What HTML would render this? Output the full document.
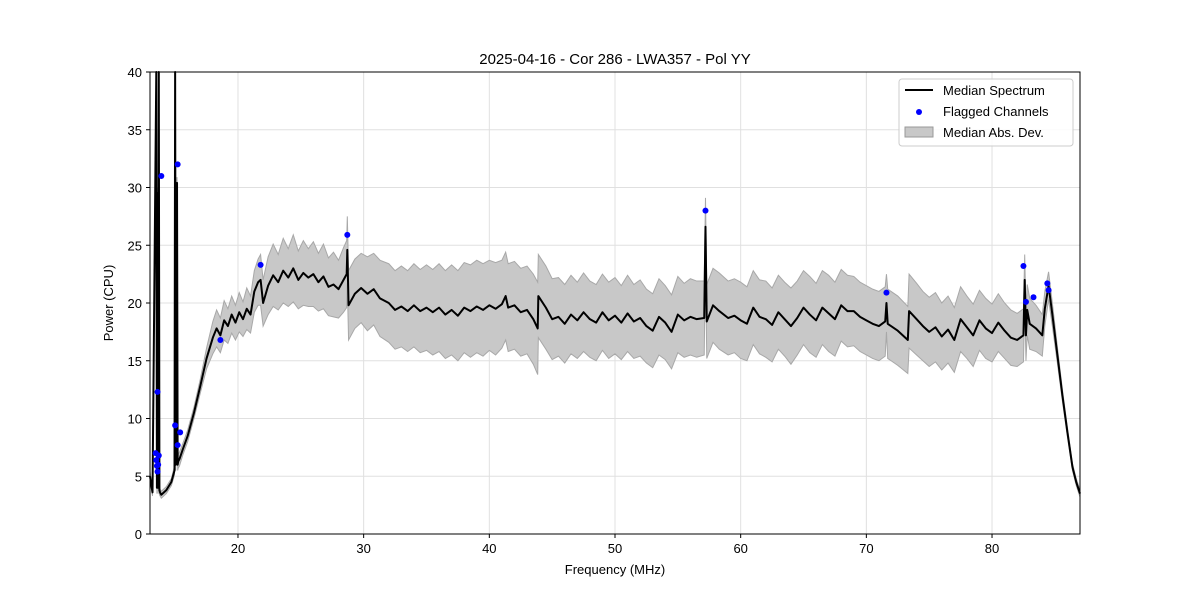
<!DOCTYPE html>
<html><head><meta charset="utf-8"><style>
body{margin:0;background:#fff;font-family:"Liberation Sans","DejaVu Sans",sans-serif}
svg text{font-family:"Liberation Sans","DejaVu Sans",sans-serif;fill:#000}
</style></head><body>
<svg id="chart" width="1200" height="600">
<rect width="1200" height="600" fill="#fff"/>
<text x="615" y="64" font-size="15" text-anchor="middle">2025-04-16 - Cor 286 - LWA357 - Pol YY</text>
<g id="grid"></g>
<g id="plot"></g>
<rect x="150" y="72" width="930" height="462" fill="none" stroke="#000" stroke-width="1"/>
<g id="axes"></g>
<text x="615" y="574" font-size="13" text-anchor="middle">Frequency (MHz)</text>
<text x="113" y="303" font-size="13" text-anchor="middle" transform="rotate(-90 113 303)">Power (CPU)</text>
<g>
<rect x="899" y="79" width="174" height="67" rx="3" fill="#fff" fill-opacity="0.85" stroke="#ccc"/>
<g><line x1="905" y1="90" x2="933" y2="90" stroke="#000" stroke-width="2"/><text x="943" y="95" font-size="13">Median Spectrum</text></g>
<g><circle cx="919" cy="112" r="3" fill="#00f"/><text x="943" y="116" font-size="13">Flagged Channels</text></g>
<g><rect x="905" y="127" width="28" height="10" fill="#c8c8c8" stroke="#999"/><text x="943" y="137" font-size="13">Median Abs. Dev.</text></g>
</g>
</svg>
<script>
const freqs=[
13.0,13.2,13.5,13.55,13.6,13.65,13.7,13.75,13.8,13.9,
14.3,14.7,14.95,15.0,15.05,15.15,15.2,15.25,15.35,15.6,
16.0,16.5,17.0,17.5,18.0,18.3,18.6,18.9,19.2,19.5,
19.8,20.1,20.4,20.7,21.0,21.3,21.6,21.8,22.0,22.4,
22.8,23.2,23.6,24.0,24.4,24.8,25.2,25.6,26.0,26.4,
26.8,27.2,27.6,28.0,28.4,28.65,28.7,28.8,29.3,29.8,
30.3,30.8,31.3,32.0,32.5,33.0,33.5,34.0,34.5,35.0,
35.5,36.0,36.5,37.0,37.5,38.0,38.5,39.0,39.5,40.0,
40.5,41.0,41.3,41.5,42.0,42.5,43.0,43.5,43.85,43.9,
44.5,45.0,45.5,46.0,46.5,47.0,47.5,48.0,48.5,49.0,
49.5,50.0,50.5,51.0,51.5,52.0,52.5,53.0,53.5,54.0,
54.5,55.0,55.5,56.0,56.5,57.1,57.2,57.3,57.8,58.3,
59.0,59.5,60.0,60.5,61.0,61.5,62.0,62.5,63.0,63.5,
64.0,64.5,65.0,65.5,66.0,66.5,67.0,67.5,68.0,68.5,
69.0,69.5,70.0,70.5,71.0,71.5,71.6,71.7,72.5,73.3,
73.4,74.0,74.5,75.0,75.5,76.0,76.5,77.0,77.5,78.0,
78.5,79.0,79.5,80.0,80.5,81.0,81.5,82.0,82.5,82.6,
82.7,82.8,83.0,83.5,84.0,84.2,84.5,84.8,85.2,85.6,
86.0,86.4,86.7,87.0];
const medianVals=[
5.0,3.6,40,4,29.5,4,40,3.8,3.6,3.4,
3.8,4.5,5.5,40,6,30.4,6,6.3,6.5,7.3,
8.5,10.5,12.8,15.2,17.0,17.8,17.2,18.5,18.0,19.0,
18.3,19.2,18.6,19.5,19.0,21.0,21.8,22.0,20.0,21.5,
22.4,21.8,22.8,22.2,23.0,22.0,22.6,22.2,22.5,21.8,
22.3,21.4,21.6,21.2,22.0,22.5,24.6,19.8,20.8,21.3,
20.8,21.2,20.4,20.0,19.4,19.7,19.3,19.8,19.3,19.6,
19.2,19.6,19.0,19.4,18.9,19.6,19.3,19.7,19.4,19.8,
19.5,19.9,20.6,19.6,19.8,19.2,19.4,18.6,17.8,20.6,
19.6,18.6,18.8,18.2,19.0,18.5,19.2,18.6,18.3,19.2,
18.5,18.9,18.3,19.1,18.4,18.7,18.0,17.6,18.8,18.3,
17.5,19.0,18.5,18.8,18.6,18.7,26.6,18.4,19.8,19.3,
18.7,18.9,18.5,18.2,19.6,18.8,18.6,18.1,19.2,18.6,
18.0,18.7,19.6,19.0,18.5,19.6,19.1,18.6,19.8,19.3,
19.3,18.8,18.5,18.2,18.0,18.4,20.0,18.2,17.6,16.8,
19.3,18.6,18.0,17.5,17.9,17.1,17.7,16.8,18.6,17.9,
17.2,18.5,17.8,17.4,18.3,17.6,17.0,16.8,17.2,22.0,
17.2,19.4,18.2,17.8,17.2,19.5,21.5,19.0,15.5,12.0,
8.8,5.8,4.5,3.5];
const madVals=[
0.4,0.3,0.5,0.5,0.5,0.5,0.5,0.4,0.3,0.3,
0.3,0.3,0.4,0.5,0.5,0.5,0.5,0.6,0.6,0.5,
0.5,0.5,0.6,0.9,1.4,1.6,1.5,1.7,1.5,1.6,
1.5,1.7,1.5,1.8,1.6,1.8,2.0,2.2,2.0,2.5,
2.7,2.4,2.8,2.5,2.9,2.5,2.8,2.5,2.8,2.5,
2.8,2.5,2.8,2.5,2.8,2.9,2.9,3.0,3.0,3.0,
3.2,3.1,3.3,3.4,3.4,3.5,3.5,3.6,3.6,3.7,
3.7,3.8,3.8,3.9,3.9,3.9,4.0,4.0,4.0,3.9,
4.0,3.8,3.8,3.8,3.8,3.8,3.8,3.9,4.0,3.6,
3.6,3.5,3.4,3.4,3.4,3.3,3.4,3.3,3.3,3.3,
3.3,3.3,3.2,3.3,3.2,3.3,3.2,3.2,3.3,3.2,
3.2,3.3,3.2,3.3,3.3,3.2,2.5,3.2,3.2,3.3,
3.2,3.2,3.3,3.2,3.2,3.2,3.3,3.2,3.2,3.2,
3.3,3.2,3.2,3.3,3.2,3.2,3.3,3.2,3.1,3.1,
3.0,3.0,3.0,3.0,3.0,3.0,2.5,3.0,3.0,2.9,
3.2,3.1,3.0,3.0,3.0,2.9,2.9,2.8,2.8,2.7,
2.7,2.6,2.6,2.5,2.5,2.4,2.4,2.3,2.3,2.2,
2.2,2.2,2.2,2.0,1.8,1.5,1.2,1.0,0.7,0.5,
0.4,0.3,0.3,0.3];
const flagFreqs=[13.6,13.9,15.2,15.0,15.4,15.2,13.45,13.5,13.55,13.6,13.7,13.65,18.6,21.8,28.7,57.2,71.6,82.5,82.7,83.3,84.4,84.5];
const flagVals=[12.3,31.0,32.0,9.4,8.8,7.7,7.0,6.4,5.9,5.4,6.8,6.0,16.8,23.3,25.9,28.0,20.9,23.2,20.1,20.5,21.7,21.1];
const xTicks=[20,30,40,50,60,70,80];
const yTicks=[0,5,10,15,20,25,30,35,40];
const X0=150,X1=1080,Y0=534,Y1=72,F0=13,F1=87,P0=0,P1=40;
const xs=f=>X0+(f-F0)/(F1-F0)*(X1-X0);
const ys=v=>Y0-(Math.min(Math.max(v,P0),P1)-P0)/(P1-P0)*(Y0-Y1);
const NS="http://www.w3.org/2000/svg";
function mk(t,a,p){const e=document.createElementNS(NS,t);for(const k in a)e.setAttribute(k,a[k]);p.appendChild(e);return e;}
const grid=document.getElementById('grid'),plot=document.getElementById('plot'),axes=document.getElementById('axes');
xTicks.forEach(t=>{const x=xs(t);
const g=mk('line',{x1:x,x2:x,y1:Y1,y2:Y0,stroke:'#e0e0e0','stroke-width':1},grid);


mk('line',{x1:x,x2:x,y1:Y0,y2:Y0+4,stroke:'#000'},axes);
const tx=mk('text',{x:x,y:Y0+19,'font-size':13,'text-anchor':'middle'},axes);tx.textContent=t;

});
yTicks.forEach(t=>{const y=ys(t);
const g=mk('line',{x1:X0,x2:X1,y1:y,y2:y,stroke:'#e0e0e0','stroke-width':1},grid);


mk('line',{x1:X0-4,x2:X0,y1:y,y2:y,stroke:'#000'},axes);
const tx=mk('text',{x:X0-8,y:y+5,'font-size':13,'text-anchor':'end'},axes);tx.textContent=t;

});
const n=Math.min(freqs.length,medianVals.length,madVals.length);
let up=[],lo=[];
for(let i=0;i<n;i++){const f=freqs[i];up.push(xs(f)+','+ys(medianVals[i]+madVals[i]));lo.unshift(xs(f)+','+ys(medianVals[i]-madVals[i]));}
const band=mk('polygon',{points:up.concat(lo).join(' '),fill:'#c8c8c8',stroke:'#a8a8a8','stroke-width':1},plot);


const pts=[];for(let i=0;i<n;i++)pts.push(xs(freqs[i])+','+ys(medianVals[i]));
const line=mk('polyline',{points:pts.join(' '),fill:'none',stroke:'#000','stroke-width':2,'stroke-linejoin':'round'},plot);


flagFreqs.forEach((f,i)=>{const c=mk('circle',{cx:xs(f),cy:ys(flagVals[i]),r:3,fill:'#00f'},plot);

});
</script>
</body></html>
